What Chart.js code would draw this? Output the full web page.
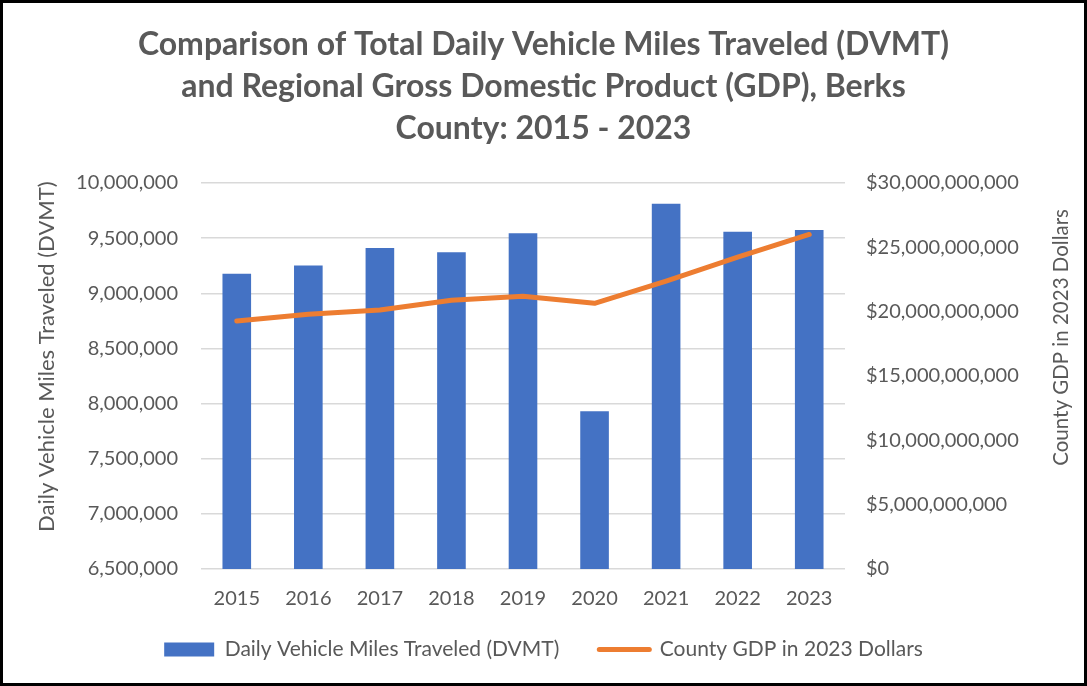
<!DOCTYPE html>
<html><head><meta charset="utf-8">
<script src="https://cdn.jsdelivr.net/npm/chart.js@4.4.0/dist/chart.umd.min.js"></script>
<style>
html,body{margin:0;padding:0;background:#fff;}
#wrap{position:relative;width:1087px;height:686px;box-sizing:border-box;border:3px solid #000;background:#fff;}
canvas{display:block;}
</style></head><body>
<div id="wrap"><canvas id="c" width="1081" height="680"></canvas></div>
<script>
const categories = ['2015','2016','2017','2018','2019','2020','2021','2022','2023'];
const dvmtValues = [9177000, 9253000, 9410000, 9371000, 9545000, 7931000, 9811000, 9559000, 9574000];
const gdpValues = [19.28e9, 19.80e9, 20.13e9, 20.88e9, 21.19e9, 20.65e9, 22.38e9, 24.24e9, 26.00e9];
const titleLines = ['Comparison of Total Daily Vehicle Miles Traveled (DVMT)', 'and Regional Gross Domestic Product (GDP), Berks', 'County: 2015 - 2023'];
const dvmtLabel = 'Daily Vehicle Miles Traveled (DVMT)';
const gdpLabel = 'County GDP in 2023 Dollars';
const leftAxisTitle = 'Daily Vehicle Miles Traveled (DVMT)';
const rightAxisTitle = 'County GDP in 2023 Dollars';
const dvmtAxis = {min: 6500000, max: 10000000, step: 500000};
const gdpAxis = {min: 0, max: 30000000000, step: 5000000000};

const TEXT = '#595959';
const BLUE = '#4472C4';
const ORANGE = '#ED7D31';
const FAMILY = 'Lato, "Open Sans", sans-serif';
Chart.defaults.font.family = FAMILY;
Chart.defaults.color = TEXT;

const axisTitles = {
  id: 'axisTitles',
  afterDraw(chart) {
    const {ctx, chartArea} = chart;
    const h = chartArea.bottom - chartArea.top;
    ctx.save();
    ctx.fillStyle = TEXT;
    ctx.textAlign = 'center';
    ctx.textBaseline = 'middle';
    ctx.save();
    ctx.font = '22px ' + FAMILY;
    ctx.translate(chart.scales.y.left + 44, chartArea.top + h * 0.45);
    ctx.rotate(-Math.PI / 2);
    ctx.fillText(leftAxisTitle, 0, 0);
    ctx.restore();
    ctx.save();
    ctx.font = '20.5px ' + FAMILY;
    ctx.translate(chartArea.right + 216, chartArea.top + h * 0.40);
    ctx.rotate(-Math.PI / 2);
    ctx.fillText(rightAxisTitle, 0, 0);
    ctx.restore();
    ctx.restore();
  }
};

new Chart(document.getElementById('c'), {
  type: 'bar',
  data: {
    labels: categories,
    datasets: [
      {
        type: 'bar', label: dvmtLabel, data: dvmtValues, yAxisID: 'y',
        backgroundColor: BLUE, borderWidth: 0,
        barPercentage: 0.4, categoryPercentage: 1.0, order: 2
      },
      {
        type: 'line', label: gdpLabel, data: gdpValues, yAxisID: 'y1',
        borderColor: ORANGE, backgroundColor: ORANGE, borderWidth: 5,
        borderCapStyle: 'round', borderJoinStyle: 'round',
        pointRadius: 0, tension: 0, order: 1
      }
    ]
  },
  options: {
    responsive: false,
    animation: false,
    devicePixelRatio: 1,
    layout: {padding: {left: 0, right: 0, top: 0, bottom: 13}},
    plugins: {
      title: {
        display: true, text: titleLines, color: TEXT,
        font: {size: 32, weight: 'bold', lineHeight: 42/32},
        padding: {top: 21, bottom: 33}
      },
      legend: {
        display: true, position: 'bottom',
        labels: {
          usePointStyle: true, pointStyleWidth: 50, boxHeight: 14,
          padding: 40, color: TEXT, font: {size: 21},
          generateLabels(chart) {
            return chart.data.datasets.map((ds, i) => ({
              text: ds.label,
              fillStyle: ds.type === 'line' ? ds.borderColor : ds.backgroundColor,
              strokeStyle: ds.type === 'line' ? ds.borderColor : ds.backgroundColor,
              lineWidth: ds.type === 'line' ? 5 : 0,
              lineCap: 'round',
              pointStyle: ds.type === 'line' ? 'line' : 'rect',
              fontColor: TEXT,
              datasetIndex: i,
              hidden: false
            }));
          }
        }
      },
      tooltip: {enabled: false}
    },
    scales: {
      x: {
        grid: {display: false, drawTicks: false},
        border: {display: false},
        ticks: {color: TEXT, font: {size: 20}, mirror: true, padding: -42},
        afterFit(scale) { scale.height = 30; }
      },
      y: {
        position: 'left',
        min: dvmtAxis.min, max: dvmtAxis.max,
        grid: {color: '#D9D9D9', lineWidth: 1.5, drawTicks: false},
        border: {display: false},
        ticks: {stepSize: dvmtAxis.step, color: TEXT, font: {size: 20}, padding: 23,
          callback: v => v.toLocaleString('en-US')},
        afterFit(scale) { scale.width = 198; }
      },
      y1: {
        position: 'right',
        min: gdpAxis.min, max: gdpAxis.max,
        grid: {display: false, drawTicks: false},
        border: {display: false},
        ticks: {stepSize: gdpAxis.step, color: TEXT, font: {size: 20}, padding: 21,
          callback: v => '$' + v.toLocaleString('en-US')},
        afterFit(scale) { scale.width = 239; }
      }
    }
  },
  plugins: [axisTitles]
});
</script>
</body></html>
